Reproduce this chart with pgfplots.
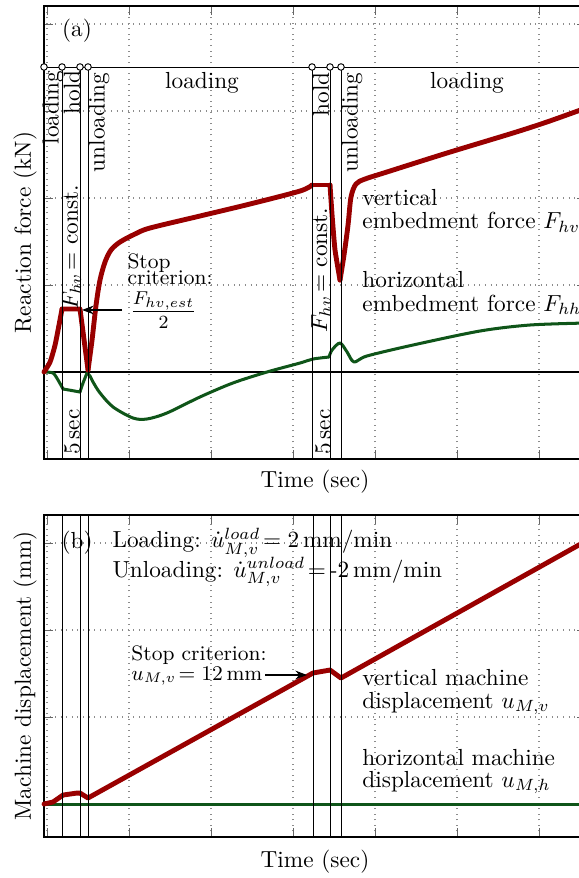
\documentclass[border=0pt]{standalone}
\usepackage{pgfplots}
\pgfplotsset{compat=1.18}
\usetikzlibrary{arrows.meta}
\definecolor{dred}{RGB}{153,0,0}
\definecolor{dgreen}{RGB}{15,85,25}
\begin{document}
\begin{tikzpicture}
\pgfplotsset{
  myaxis/.style={
    scale only axis, width=233.06pt, xmin=-0.037, xmax=6.573,
    xtick={0,...,6}, xticklabels={}, yticklabels={},
    grid=major, grid style={dotted, black!45, line width=0.5pt},
    major tick length=4pt, tick style={black!60, line width=0.4pt},
    axis line style={line width=0.5pt},
    clip=false, anchor=south west,
    xlabel={Time (sec)},
    ylabel style={at={(axis description cs:-0.0351,0.5)}, anchor=center},
  },
  phase/.style={black, line width=0.4pt, forget plot},
  redc/.style={dred, line width=2.1pt, line join=round, line cap=round},
  greenc/.style={dgreen, line width=1.3pt, line join=round, line cap=round},
}
% ---------------- (a) ----------------
\begin{axis}[myaxis, at={(18.92pt,180.17pt)}, height=194.79pt,
  ymin=-1, ymax=4.207, ytick={0,...,4},
  ylabel={Reaction force (kN)},
  xlabel style={at={(axis description cs:0.5,-0.0508)}, anchor=center}]
\addplot[black, line width=0.6pt] coordinates {(-0.037,0) (6.573,0)};
% horizontal embedment force
\addplot[greenc, smooth, tension=0.4] coordinates {
(-0.037,0) (0.073,-0.011) (0.134,-0.092) (0.195,-0.195)};
\addplot[greenc] coordinates {(0.195,-0.195) (0.402,-0.230)};
\addplot[greenc, smooth, tension=0.4] coordinates {(0.402,-0.230) (0.439,-0.126) (0.488,-0.011)};
\addplot[greenc, smooth, tension=0.5] coordinates {
(0.488,-0.011) (0.524,-0.046) (0.561,-0.115) (0.646,-0.241)
(0.805,-0.402) (1.049,-0.529) (1.220,-0.540) (1.463,-0.471) (1.866,-0.287)
(2.268,-0.126) (2.683,0) (3.085,0.103) (3.244,0.149) (3.439,0.172)};
\addplot[greenc, smooth, tension=0.5] coordinates {
(3.439,0.172) (3.476,0.253) (3.573,0.333) (3.659,0.230) (3.744,0.115) (3.902,0.184)
(4.463,0.310) (5.280,0.471) (5.890,0.540) (6.573,0.563)};
% vertical embedment force
\addplot[redc, smooth, tension=0.4] coordinates {
(-0.037,0) (0.037,0.115) (0.098,0.310) (0.146,0.540) (0.183,0.724)};
\addplot[redc] coordinates {(0.183,0.724) (0.402,0.724) (0.500,0.023)};
\addplot[redc, smooth, tension=0.5] coordinates {
(0.500,0.023) (0.549,0.368) (0.598,0.770) (0.646,1.057)
(0.707,1.264) (0.780,1.402) (0.890,1.494) (1.073,1.586) (1.256,1.655)
(1.866,1.793) (2.476,1.931) (3.085,2.080) (3.232,2.149)};
\addplot[redc] coordinates {(3.232,2.149) (3.451,2.149)};
\addplot[redc, smooth, tension=0.3] coordinates {
(3.451,2.149) (3.476,1.805) (3.512,1.402) (3.573,1.057)};
\addplot[redc, smooth, tension=0.5] coordinates {
(3.573,1.057) (3.622,1.345) (3.671,1.690)
(3.707,2.011) (3.768,2.161) (3.878,2.218) (4.146,2.299) (4.878,2.517)
(5.683,2.747) (6.098,2.874) (6.573,3.034)};
% phase lines
\addplot[phase] coordinates {(-0.037,3.506) (6.573,3.506)};
\addplot[phase] coordinates {(0.183,3.506) (0.183,-1)};
\addplot[phase] coordinates {(0.402,3.506) (0.402,-1)};
\addplot[phase] coordinates {(0.500,3.506) (0.500,-1)};
\addplot[phase] coordinates {(3.232,3.506) (3.232,-1)};
\addplot[phase] coordinates {(3.451,3.506) (3.451,-1)};
\addplot[phase] coordinates {(3.585,3.506) (3.585,-1)};
\addplot[only marks, mark=*, mark size=1.4pt, mark options={fill=white, draw=black, line width=0.4pt}]
 coordinates {(-0.037,3.506) (0.183,3.506) (0.402,3.506) (0.500,3.506) (3.232,3.506) (3.451,3.506) (3.585,3.506)};
% texts
\node at (axis cs:0.366,3.92) {(a)};
\node[rotate=90, anchor=east, inner sep=0pt] at (axis cs:0.073,3.471) {loading};
\node[rotate=90, anchor=east, inner sep=0pt] at (axis cs:0.305,3.471) {hold};
\node[rotate=90, anchor=east, inner sep=0pt] at (axis cs:0.634,3.448) {unloading};
\node[rotate=90, anchor=east, inner sep=0pt] at (axis cs:3.341,3.448) {hold};
\node[rotate=90, anchor=east, inner sep=0pt] at (axis cs:3.720,3.448) {unloading};
\node at (axis cs:1.890,3.322) {loading};
\node at (axis cs:5.122,3.322) {loading};
\node[rotate=90, inner sep=0pt] at (axis cs:0.299,1.431) {$F_{hv}\!=$ const.};
\node[rotate=90, inner sep=0pt] at (axis cs:3.341,1.172) {$F_{hv}\!=$ const.};
\node[rotate=90, inner sep=0pt] at (axis cs:0.305,-0.690) {5\,sec};
\node[rotate=90, inner sep=0pt] at (axis cs:3.366,-0.690) {5\,sec};
\node[anchor=base west, font=\small, inner sep=0pt] at (axis cs:0.976,1.184) {Stop};
\node[anchor=base west, font=\small, inner sep=0pt] at (axis cs:0.976,1.0) {criterion:};
\node[font=\large, inner sep=0pt] at (axis cs:1.42,0.713) {$\frac{F_{hv,est}}{2}$};
\draw[-{Stealth[length=5pt]}, line width=0.5pt] (axis cs:0.915,0.713) -- (axis cs:0.427,0.713);
\node[anchor=base west, inner sep=0pt] at (axis cs:3.841,1.908) {vertical};
\node[anchor=base west, inner sep=0pt] at (axis cs:3.841,1.644) {embedment force $F_{hv}$};
\node[anchor=base west, inner sep=0pt] at (axis cs:3.841,0.966) {horizontal};
\node[anchor=base west, inner sep=0pt] at (axis cs:3.841,0.701) {embedment force $F_{hh}$};
\end{axis}
% ---------------- (b) ----------------
\begin{axis}[myaxis, at={(18.92pt,17.63pt)}, height=138.46pt,
  ymin=-0.379, ymax=3.322, ytick={0,...,3},
  ylabel={Machine displacement (mm)},
  xlabel style={at={(axis description cs:0.5,-0.0776)}, anchor=center}]
\addplot[dgreen, line width=1.3pt] coordinates {(-0.037,0) (6.573,0)};
\addplot[redc] coordinates {
(-0.037,0) (0.073,0.023) (0.195,0.103) (0.366,0.126) (0.402,0.126)
(0.500,0.069) (3.244,1.506) (3.451,1.540) (3.585,1.448) (6.573,3.023)};
\addplot[phase] coordinates {(0.183,3.322) (0.183,-0.379)};
\addplot[phase] coordinates {(0.402,3.322) (0.402,-0.379)};
\addplot[phase] coordinates {(0.500,3.322) (0.500,-0.379)};
\addplot[phase] coordinates {(3.244,3.322) (3.244,-0.379)};
\addplot[phase] coordinates {(3.451,3.322) (3.451,-0.379)};
\addplot[phase] coordinates {(3.585,3.322) (3.585,-0.379)};
\node at (axis cs:0.366,3.0) {(b)};
\node[anchor=base west, inner sep=0pt] at (axis cs:0.793,2.943) {Loading: $\dot{u}^{load}_{M,v}\!=2\,$mm/min};
\node[anchor=base west, inner sep=0pt] at (axis cs:0.793,2.609) {Unloading: $\dot{u}^{unload}_{M,v}\!=$\,-2\,mm/min};
\node[anchor=base west, font=\small, inner sep=0pt] at (axis cs:1.024,1.655) {Stop criterion:};
\node[anchor=base west, font=\small, inner sep=0pt] at (axis cs:1.024,1.425) {$u_{M,v}\!=12\,$mm};
\draw[-{Stealth[length=5pt]}, line width=0.5pt] (axis cs:2.659,1.483) -- (axis cs:3.171,1.483);
\node[anchor=base west, inner sep=0pt] at (axis cs:3.841,1.368) {vertical machine};
\node[anchor=base west, inner sep=0pt] at (axis cs:3.841,1.103) {displacement $u_{M,v}$};
\node[anchor=base west, inner sep=0pt] at (axis cs:3.841,0.448) {horizontal machine};
\node[anchor=base west, inner sep=0pt] at (axis cs:3.841,0.195) {displacement $u_{M,h}$};
\end{axis}
\pgfresetboundingbox
\useasboundingbox (0,0) rectangle (248.97pt,377.54pt);
\end{tikzpicture}
\end{document}
